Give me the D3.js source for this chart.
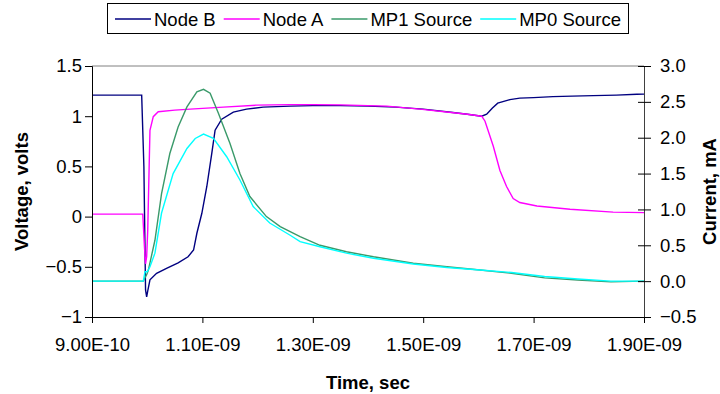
<!DOCTYPE html>
<html>
<head>
<meta charset="utf-8">
<script src="https://cdn.jsdelivr.net/npm/d3@7"></script>
<style>
  body { margin: 0; background: #fff; }
  svg { display: block; font-family: "Liberation Sans", Arial, sans-serif; }
</style>
</head>
<body>
<div id="chart"></div>
<script>
// time in ns, voltages in volts (left axis), currents in mA (right axis)
const nodeBTime = [0.90, 0.990, 0.994, 0.997, 0.999, 1.001, 1.005, 1.017, 1.035, 1.056, 1.074, 1.084, 1.090, 1.099, 1.108, 1.117, 1.123, 1.135, 1.156, 1.180, 1.210, 1.259, 1.30, 1.35, 1.40, 1.45, 1.50, 1.55, 1.58, 1.606, 1.615, 1.625, 1.635, 1.657, 1.675, 1.70, 1.735, 1.77, 1.808, 1.85, 1.887, 1.90];
const nodeBVolt = [1.21, 1.21, 0.50, -0.73, -0.80, -0.74, -0.63, -0.565, -0.515, -0.46, -0.40, -0.333, -0.166, 0.033, 0.30, 0.63, 0.86, 0.97, 1.04, 1.07, 1.09, 1.10, 1.105, 1.105, 1.10, 1.09, 1.07, 1.04, 1.02, 1.00, 1.02, 1.08, 1.13, 1.165, 1.18, 1.185, 1.195, 1.20, 1.205, 1.21, 1.218, 1.22];

const nodeATime = [0.90, 0.992, 0.995, 0.997, 0.999, 1.001, 1.005, 1.011, 1.020, 1.05, 1.078, 1.138, 1.198, 1.259, 1.30, 1.35, 1.40, 1.434, 1.494, 1.555, 1.58, 1.606, 1.612, 1.621, 1.627, 1.639, 1.651, 1.663, 1.675, 1.706, 1.766, 1.844, 1.90];
const nodeAVolt = [0.025, 0.025, -0.30, -0.47, -0.40, -0.13, 0.86, 0.995, 1.045, 1.06, 1.07, 1.09, 1.11, 1.115, 1.115, 1.113, 1.105, 1.10, 1.07, 1.035, 1.02, 1.00, 0.95, 0.80, 0.70, 0.46, 0.30, 0.18, 0.14, 0.105, 0.073, 0.045, 0.04];

const mp1Time = [0.90, 0.993, 0.996, 0.999, 1.002, 1.014, 1.026, 1.041, 1.056, 1.072, 1.09, 1.102, 1.114, 1.129, 1.15, 1.168, 1.186, 1.216, 1.241, 1.277, 1.313, 1.361, 1.41, 1.482, 1.543, 1.603, 1.66, 1.72, 1.78, 1.84, 1.90];
const mp1Curr = [0.0, 0.0, 0.05, 0.09, 0.15, 0.57, 1.22, 1.78, 2.15, 2.43, 2.64, 2.675, 2.62, 2.34, 1.92, 1.50, 1.18, 0.90, 0.76, 0.62, 0.50, 0.41, 0.34, 0.25, 0.20, 0.155, 0.11, 0.045, 0.015, -0.01, 0.0];

const mp0Time = [0.90, 0.993, 0.996, 1.0, 1.005, 1.014, 1.026, 1.047, 1.072, 1.087, 1.102, 1.120, 1.144, 1.168, 1.192, 1.222, 1.259, 1.277, 1.313, 1.361, 1.41, 1.482, 1.543, 1.603, 1.66, 1.72, 1.78, 1.84, 1.90];
const mp0Curr = [0.0, 0.0, 0.13, 0.13, 0.20, 0.39, 0.95, 1.50, 1.85, 1.99, 2.05, 1.99, 1.735, 1.41, 1.04, 0.81, 0.64, 0.55, 0.48, 0.39, 0.32, 0.24, 0.19, 0.155, 0.12, 0.065, 0.03, 0.0, 0.0];

const xTicks = [0.9e-9, 1.1e-9, 1.3e-9, 1.5e-9, 1.7e-9, 1.9e-9];
const voltTicks = [-1, -0.5, 0, 0.5, 1, 1.5];
const currTicks = [-0.5, 0, 0.5, 1, 1.5, 2, 2.5, 3];
const seriesNames = ['Node B', 'Node A', 'MP1 Source', 'MP0 Source'];
const seriesColors = ['#000080', '#ff00ff', '#3a9a6a', '#00ffff'];

const width = 720, height = 394;
const margin = { top: 66, right: 76, bottom: 77, left: 92 };

const svg = d3.select('#chart').append('svg')
  .attr('width', width)
  .attr('height', height);

const x = d3.scaleLinear().domain([0.9e-9, 1.9e-9]).range([margin.left, width - margin.right]);
const yV = d3.scaleLinear().domain([-1, 1.5]).range([height - margin.bottom, margin.top]);
const yI = d3.scaleLinear().domain([-0.5, 3]).range([height - margin.bottom, margin.top]);

// excel style exponent label, e.g. 1.10E-09
function sciFormat(v) {
  const s = d3.format('.2e')(v);
  const [m, e] = s.split('e');
  const n = +e;
  return m + 'E' + (n < 0 ? '-' : '+') + String(Math.abs(n)).padStart(2, '0');
}

const fontSize = 18.5;

// plot area border top
svg.append('line')
  .attr('x1', x.range()[0]).attr('x2', x.range()[1])
  .attr('y1', margin.top).attr('y2', margin.top)
  .attr('stroke', '#808080');

const series = [
  { t: nodeBTime, v: nodeBVolt, y: yV },
  { t: nodeATime, v: nodeAVolt, y: yV },
  { t: mp1Time, v: mp1Curr, y: yI },
  { t: mp0Time, v: mp0Curr, y: yI },
];

series.forEach((s, i) => {
  const pts = s.t.map((t, k) => [t * 1e-9, s.v[k]]);
  const line = d3.line().x(d => x(d[0])).y(d => s.y(d[1]));
  svg.append('path')
    .datum(pts)
    .attr('d', line)
    .attr('fill', 'none')
    .attr('stroke', seriesColors[i])
    .attr('stroke-width', 1.4);
});

// axes
const xAxis = svg.append('g')
  .attr('transform', `translate(0,${height - margin.bottom})`)
  .call(d3.axisBottom(x).tickValues(xTicks).tickFormat(sciFormat).tickSize(6).tickPadding(15));
const yAxisL = svg.append('g')
  .attr('transform', `translate(${margin.left},0)`)
  .call(d3.axisLeft(yV).tickValues(voltTicks).tickFormat(d3.format('')).tickSize(7).tickPadding(3));
const yAxisR = svg.append('g')
  .attr('transform', `translate(${width - margin.right},0)`)
  .call(d3.axisRight(yI).tickValues(currTicks).tickFormat(d3.format('.1f')).tickSize(7).tickPadding(9));
yAxisR.selectAll('.tick line').attr('x1', -6);

[xAxis, yAxisL, yAxisR].forEach(g => {
  g.select('.domain').attr('stroke', '#000');
  g.selectAll('.tick line').attr('stroke', '#000');
  g.selectAll('.tick text')
    .attr('fill', '#000')
    .attr('font-size', fontSize)
    .attr('font-family', '"Liberation Sans", Arial, sans-serif');
});
yAxisR.select('.domain').attr('stroke', '#404040');

// axis titles
svg.append('text')
  .attr('x', (x.range()[0] + x.range()[1]) / 2)
  .attr('y', 389)
  .attr('text-anchor', 'middle')
  .attr('font-size', fontSize)
  .attr('font-weight', 'bold')
  .text('Time, sec');

svg.append('text')
  .attr('transform', `translate(28,${(margin.top + height - margin.bottom) / 2}) rotate(-90)`)
  .attr('text-anchor', 'middle')
  .attr('font-size', fontSize)
  .attr('font-weight', 'bold')
  .text('Voltage, volts');

svg.append('text')
  .attr('transform', `translate(716,${(margin.top + height - margin.bottom) / 2}) rotate(-90)`)
  .attr('text-anchor', 'middle')
  .attr('font-size', fontSize)
  .attr('font-weight', 'bold')
  .text('Current, mA');

// legend
const legend = svg.append('g');
let lx = 0;
seriesNames.forEach((name, i) => {
  const item = legend.append('g').attr('transform', `translate(${lx},0)`);
  item.append('line')
    .attr('x1', 0).attr('x2', 36)
    .attr('y1', 0).attr('y2', 0)
    .attr('stroke', seriesColors[i])
    .attr('stroke-width', 1.4);
  const txt = item.append('text')
    .attr('x', 39)
    .attr('y', 7)
    .attr('font-size', fontSize)
    .text(name);
  lx += 39 + txt.node().getComputedTextLength() + 8;
});
const legendW = lx - 8;
const legendCx = (x.range()[0] + x.range()[1]) / 2;
const lx0 = legendCx - legendW / 2;
legend.attr('transform', `translate(${lx0},19)`);
svg.insert('rect', 'g')
  .attr('x', lx0 - 7.5).attr('y', 3.5)
  .attr('width', legendW + 15).attr('height', 30)
  .attr('fill', '#fff')
  .attr('stroke', '#000');
</script>
</body>
</html>
